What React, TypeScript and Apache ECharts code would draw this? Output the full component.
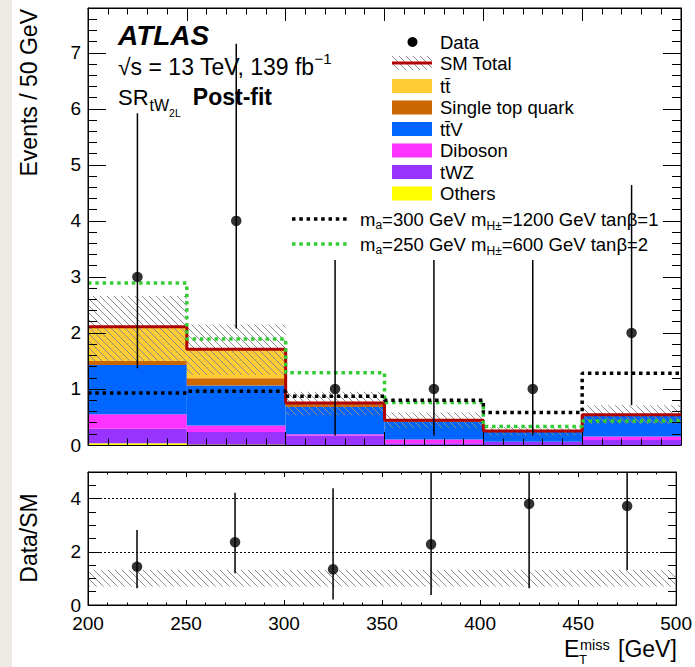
import React, { useEffect, useRef } from "react";
import * as echarts from "echarts";

const FONT = '"Liberation Sans", Arial, Helvetica, sans-serif';

// ---------------- data ----------------
const binEdges = [200, 250, 300, 350, 400, 450, 500];
const dataCounts = [3, 4, 1, 1, 1, 2];
const dataErrDown = [1.37, 2.08, 0.17, 0.17, 0.17, 0.71];
const dataErrUp = [5.92, 7.16, 3.3, 3.3, 3.3, 4.64];

const others = [0.03, 0.01, 0.0, 0.0, 0.0, 0.0];
const tWZ = [0.26, 0.22, 0.17, 0.03, 0.06, 0.09];
const diboson = [0.26, 0.12, 0.02, 0.07, 0.0, 0.06];
const ttV = [0.88, 0.71, 0.49, 0.32, 0.18, 0.38];
const singleTop = [0.07, 0.13, 0.06, 0.01, 0.0, 0.0];
const ttbar = [0.61, 0.52, 0.01, 0.01, 0.01, 0.01];

const smTotal = [2.11, 1.71, 0.75, 0.44, 0.25, 0.54];
const smUncLo = [1.5, 1.25, 0.53, 0.3, 0.17, 0.37];
const smUncHi = [2.66, 2.15, 0.95, 0.58, 0.32, 0.71];

const signal1 = [0.93, 0.96, 0.87, 0.8, 0.58, 1.28]; // ma=300, mH=1200, tanb=1
const signal2 = [2.89, 1.89, 1.29, 0.76, 0.33, 0.43]; // ma=250, mH=600, tanb=2

const ratioVals = [1.44, 2.36, 1.34, 2.28, 3.8, 3.72];
const ratioErrDown = [0.63, 1.19, 0.21, 0.38, 0.63, 1.32];
const ratioErrUp = [2.82, 4.22, 4.39, 7.5, 13.2, 8.6];
const ratioBandLo = [0.69, 0.69, 0.69, 0.69, 0.69, 0.69];
const ratioBandHi = [1.32, 1.32, 1.32, 1.32, 1.32, 1.32];

const xMin = 200, xMax = 500, xStep = 50;
const yMainMax = 7.8, yRatioMax = 5;

const COLORS = {
  ttbar: "#FFCC33",
  singleTop: "#CC6600",
  ttV: "#0066FF",
  diboson: "#FF33FF",
  tWZ: "#9933FF",
  others: "#FFFF00",
  sm: "#B00000",
  sig1: "#000000",
  sig2: "#33CC33",
  hatch: "#8c8c8c",
};

// ---------------- helpers ----------------
let measureCtx: CanvasRenderingContext2D | null = null;
function fontStr(s: number, b?: boolean, i?: boolean) {
  return `${i ? "italic " : ""}${b ? "bold " : ""}${s}px ${FONT}`;
}
function measure(t: string, s: number, b?: boolean, i?: boolean) {
  if (!measureCtx) measureCtx = document.createElement("canvas").getContext("2d");
  measureCtx!.font = fontStr(s, b, i);
  return measureCtx!.measureText(t).width;
}
type Part = { t: string; s: number; dy?: number; b?: boolean; i?: boolean; dx?: number; noAdvance?: boolean };
function textRun(parts: Part[], x0: number, base: number) {
  let x = x0;
  const els: any[] = [];
  for (const p of parts) {
    x += p.dx || 0;
    els.push({
      type: "text",
      x,
      y: base + (p.dy || 0) - 0.35 * p.s,
      z: 100,
      silent: true,
      style: { text: p.t, font: fontStr(p.s, p.b, p.i), fill: "#000", align: "left", verticalAlign: "middle" },
    });
    if (!p.noAdvance) x += measure(p.t, p.s, p.b, p.i);
  }
  return els;
}

function hatchLines(x0: number, y0: number, x1: number, y1: number, spacing: number, color: string) {
  const children: any[] = [];
  const kMin = Math.ceil((y0 - x1) / spacing);
  const kMax = Math.floor((y1 - x0) / spacing);
  for (let k = kMin; k <= kMax; k++) {
    const c = k * spacing;
    const xa = Math.max(x0, y0 - c);
    const xb = Math.min(x1, y1 - c);
    if (xb > xa) {
      children.push({ type: "line", shape: { x1: xa, y1: xa + c, x2: xb, y2: xb + c }, style: { stroke: color, lineWidth: 1 } });
    }
  }
  return children;
}

const rectRender = (color: string) => (_p: any, api: any) => {
  const p0 = api.coord([api.value(0), api.value(2)]);
  const p1 = api.coord([api.value(1), api.value(3)]);
  return {
    type: "rect",
    shape: { x: p0[0], y: p1[1], width: p1[0] - p0[0], height: p0[1] - p1[1] },
    style: { fill: color },
  };
};

const hatchRender = (_p: any, api: any) => {
  const p0 = api.coord([api.value(0), api.value(2)]);
  const p1 = api.coord([api.value(1), api.value(3)]);
  return { type: "group", children: hatchLines(p0[0], p1[1], p1[0], p0[1], 7, COLORS.hatch) };
};

const errRender = (_p: any, api: any) => {
  const a = api.coord([api.value(0), api.value(1)]);
  const b = api.coord([api.value(0), api.value(2)]);
  return { type: "line", shape: { x1: a[0], y1: a[1], x2: b[0], y2: b[1] }, style: { stroke: "#000", lineWidth: 1.5 } };
};

function stepData(vals: number[]) {
  return binEdges.map((e, i) => [e, vals[Math.min(i, vals.length - 1)]]);
}
const centers = binEdges.slice(0, -1).map((e, i) => (e + binEdges[i + 1]) / 2);

function buildOption() {
  const stackDefs = [
    { vals: others, color: COLORS.others },
    { vals: tWZ, color: COLORS.tWZ },
    { vals: diboson, color: COLORS.diboson },
    { vals: ttV, color: COLORS.ttV },
    { vals: singleTop, color: COLORS.singleTop },
    { vals: ttbar, color: COLORS.ttbar },
  ];
  const base = new Array(centers.length).fill(0);
  const stackSeries = stackDefs.map((d) => {
    const data = d.vals.map((v, i) => {
      const item = [binEdges[i], binEdges[i + 1], base[i], base[i] + v];
      base[i] += v;
      return item;
    });
    return {
      type: "custom",
      xAxisIndex: 0,
      yAxisIndex: 0,
      renderItem: rectRender(d.color),
      data,
      encode: { x: [0, 1], y: [2, 3] },
      z: 2,
      silent: true,
    };
  });

  const axisLine = { show: true, onZero: false, lineStyle: { color: "#000", width: 1 } };
  const label = (show: boolean) => ({
    show,
    fontSize: 19,
    color: "#000",
    fontFamily: FONT,
    margin: 7,
    showMaxLabel: false,
  });

  const xAxes = [
    { gridIndex: 0, position: "bottom", major: 13, minor: 6.5, labels: false },
    { gridIndex: 0, position: "top", major: 13, minor: 6.5, labels: false },
    { gridIndex: 1, position: "bottom", major: 5, minor: 2.5, labels: true },
    { gridIndex: 1, position: "top", major: 5, minor: 2.5, labels: false },
  ].map((a) => ({
    type: "value",
    gridIndex: a.gridIndex,
    position: a.position,
    min: xMin,
    max: xMax,
    interval: xStep,
    z: 10,
    axisLine,
    axisTick: { show: true, inside: true, length: a.major, lineStyle: { color: "#000", width: 1 } },
    minorTick: { show: true, splitNumber: 5, length: a.minor, lineStyle: { color: "#000", width: 1 } },
    axisLabel: { ...label(a.labels), margin: 9, showMaxLabel: true },
    splitLine: { show: false },
  }));

  const yAxes = [
    { gridIndex: 0, position: "left", max: yMainMax, interval: 1, len: 18, labels: true, line: true },
    { gridIndex: 0, position: "right", max: yMainMax, interval: 1, len: 18, labels: false, line: true },
    { gridIndex: 0, position: "left", max: yMainMax, interval: 0.2, len: 9, labels: false, line: false },
    { gridIndex: 0, position: "right", max: yMainMax, interval: 0.2, len: 9, labels: false, line: false },
    { gridIndex: 1, position: "left", max: yRatioMax, interval: 2, len: 14, labels: true, line: true, grid: true },
    { gridIndex: 1, position: "right", max: yRatioMax, interval: 2, len: 14, labels: false, line: true },
    { gridIndex: 1, position: "left", max: yRatioMax, interval: 0.5, len: 8, labels: false, line: false },
    { gridIndex: 1, position: "right", max: yRatioMax, interval: 0.5, len: 8, labels: false, line: false },
  ].map((a: any) => ({
    type: "value",
    gridIndex: a.gridIndex,
    position: a.position,
    min: 0,
    max: a.max,
    interval: a.interval,
    z: 10,
    axisLine: { ...axisLine, show: a.line },
    axisTick: { show: true, inside: true, length: a.len, lineStyle: { color: "#000", width: 1 } },
    minorTick: { show: false },
    axisLabel: label(a.labels),
    splitLine: a.grid
      ? { show: true, lineStyle: { color: "#000", width: 1, type: [2, 2] } }
      : { show: false },
  }));

  const series: any[] = [
    ...stackSeries,
    {
      type: "custom",
      xAxisIndex: 0,
      yAxisIndex: 0,
      renderItem: hatchRender,
      data: smUncLo.map((lo, i) => [binEdges[i], binEdges[i + 1], lo, smUncHi[i]]),
      encode: { x: [0, 1], y: [2, 3] },
      z: 3,
      silent: true,
    },
    {
      type: "line",
      xAxisIndex: 0,
      yAxisIndex: 0,
      step: "end",
      data: stepData(smTotal),
      symbol: "none",
      lineStyle: { color: COLORS.sm, width: 3 },
      z: 4,
      silent: true,
    },
    {
      type: "line",
      xAxisIndex: 0,
      yAxisIndex: 0,
      step: "end",
      data: stepData(signal2),
      symbol: "none",
      lineStyle: { color: COLORS.sig2, width: 3.5, type: [3.5, 3.8] },
      z: 5,
      silent: true,
    },
    {
      type: "line",
      xAxisIndex: 0,
      yAxisIndex: 0,
      step: "end",
      data: stepData(signal1),
      symbol: "none",
      lineStyle: { color: COLORS.sig1, width: 3.5, type: [3.5, 3.8] },
      z: 5,
      silent: true,
    },
    {
      type: "custom",
      xAxisIndex: 0,
      yAxisIndex: 0,
      renderItem: errRender,
      data: centers.map((c, i) => [c, dataErrDown[i], dataErrUp[i]]),
      encode: { x: 0, y: [1, 2] },
      z: 6,
      clip: true,
      silent: true,
    },
    {
      type: "scatter",
      xAxisIndex: 0,
      yAxisIndex: 0,
      data: centers.map((c, i) => [c, dataCounts[i]]),
      symbol: "circle",
      symbolSize: 10.5,
      itemStyle: { color: "#000" },
      z: 7,
      silent: true,
    },
    // ratio panel
    {
      type: "custom",
      xAxisIndex: 2,
      yAxisIndex: 4,
      renderItem: hatchRender,
      data: ratioBandLo.map((lo, i) => [binEdges[i], binEdges[i + 1], lo, ratioBandHi[i]]),
      encode: { x: [0, 1], y: [2, 3] },
      z: 3,
      silent: true,
    },
    {
      type: "custom",
      xAxisIndex: 2,
      yAxisIndex: 4,
      renderItem: errRender,
      data: centers.map((c, i) => [c, ratioErrDown[i], ratioErrUp[i]]),
      encode: { x: 0, y: [1, 2] },
      z: 6,
      clip: true,
      silent: true,
    },
    {
      type: "scatter",
      xAxisIndex: 2,
      yAxisIndex: 4,
      data: centers.map((c, i) => [c, ratioVals[i]]),
      symbol: "circle",
      symbolSize: 10.5,
      itemStyle: { color: "#000" },
      z: 7,
      silent: true,
    },
  ];

  // ---------------- graphic: texts and legend ----------------
  const LS = 18.5;
  const legendX = 392, legendW = 40, legendH = 14, legendTextX = 440;
  const boxItems = [
    { label: [{ t: "tt\u0304", s: LS }], color: COLORS.ttbar, y: 86 },
    { label: [{ t: "Single top quark", s: LS }], color: COLORS.singleTop, y: 107.5 },
    { label: [{ t: "tt\u0304V", s: LS }], color: COLORS.ttV, y: 129 },
    { label: [{ t: "Diboson", s: LS }], color: COLORS.diboson, y: 150.5 },
    { label: [{ t: "tWZ", s: LS }], color: COLORS.tWZ, y: 172 },
    { label: [{ t: "Others", s: LS }], color: COLORS.others, y: 193.5 },
  ];
  const midToBase = (y: number, s: number) => y + 0.35 * s;

  const graphic: any[] = [
    { type: "rect", z: -10, silent: true, shape: { x: 0, y: 0, width: 12, height: 667 }, style: { fill: "#EDEAE3" } },
    // Title texts
    ...textRun([{ t: "ATLAS", s: 28, b: true, i: true }], 118, 45),
    ...textRun(
      [
        { t: "\u221As = 13 TeV, 139 fb", s: 23 },
        { t: "\u22121", s: 15, dy: -11, dx: 0 },
      ],
      118,
      75
    ),
    ...textRun(
      [
        { t: "SR", s: 22 },
        { t: "tW", s: 16, dy: 6, dx: 1 },
        { t: "2L", s: 10.5, dy: 12 },
        { t: "Post-fit", s: 23, b: true, dx: 12 },
      ],
      118,
      105
    ),
    // Legend: Data
    { type: "circle", z: 100, silent: true, shape: { cx: 412.5, cy: 42, r: 5 }, style: { fill: "#000" } },
    ...textRun([{ t: "Data", s: LS }], legendTextX, midToBase(42, LS)),
    // Legend: SM Total
    {
      type: "group",
      z: 100,
      silent: true,
      children: hatchLines(legendX, 56, legendX + legendW, 70, 7, COLORS.hatch),
    },
    { type: "line", z: 101, silent: true, shape: { x1: legendX, y1: 63, x2: legendX + legendW, y2: 63 }, style: { stroke: COLORS.sm, lineWidth: 3 } },
    ...textRun([{ t: "SM Total", s: LS }], legendTextX, midToBase(63, LS)),
  ];
  for (const it of boxItems) {
    graphic.push({
      type: "rect",
      z: 100,
      silent: true,
      shape: { x: legendX, y: it.y - legendH / 2, width: legendW, height: legendH },
      style: { fill: it.color },
    });
    graphic.push(...textRun(it.label, legendTextX, midToBase(it.y, LS)));
  }
  // signal legend entries
  const sigLegend = [
    { y: 219, color: COLORS.sig1, mA: "=300 GeV m", rest: "=1200 GeV tan\u03B2=1" },
    { y: 244, color: COLORS.sig2, mA: "=250 GeV m", rest: "=600 GeV tan\u03B2=2" },
  ];
  for (const s of sigLegend) {
    graphic.push({
      type: "line",
      z: 100,
      silent: true,
      shape: { x1: 292, y1: s.y, x2: 347, y2: s.y },
      style: { stroke: s.color, lineWidth: 3.5, lineDash: [3.5, 3.8] },
    });
    graphic.push(
      ...textRun(
        [
          { t: "m", s: LS },
          { t: "a", s: 12, dy: 4 },
          { t: s.mA, s: LS },
          { t: "H\u00B1", s: 12, dy: 5 },
          { t: s.rest, s: LS },
        ],
        360,
        midToBase(s.y, LS)
      )
    );
  }
  // axis titles
  graphic.push({
    type: "text",
    z: 100,
    silent: true,
    x: 29,
    y: 9,
    rotation: Math.PI / 2,
    style: { text: "Events / 50 GeV", font: fontStr(23), fill: "#000", align: "right", verticalAlign: "middle" },
  });
  graphic.push({
    type: "text",
    z: 100,
    silent: true,
    x: 29,
    y: 538,
    rotation: Math.PI / 2,
    style: { text: "Data/SM", font: fontStr(23), fill: "#000", align: "center", verticalAlign: "middle" },
  });
  // x title: E_T^miss [GeV]
  graphic.push(...textRun([{ t: "E", s: 23 }], 564, 657));
  graphic.push(...textRun([{ t: "miss", s: 14.5 }], 580, 650));
  graphic.push(...textRun([{ t: "T", s: 13 }], 579, 664.5));
  graphic.push(...textRun([{ t: "[GeV]", s: 23 }], 618, 657));

  return {
    animation: false,
    backgroundColor: "#ffffff",
    textStyle: { fontFamily: FONT },
    grid: [
      { left: 88, top: 8, width: 593, height: 437, show: true, borderColor: "#000", borderWidth: 1, backgroundColor: "transparent" },
      { left: 88, top: 472, width: 593, height: 133, show: true, borderColor: "#000", borderWidth: 1, backgroundColor: "transparent" },
    ],
    xAxis: xAxes,
    yAxis: yAxes,
    series,
    graphic,
  };
}

export default function App() {
  const ref = useRef<HTMLDivElement>(null);
  useEffect(() => {
    if (!ref.current) return;
    const chart = echarts.init(ref.current, null, { renderer: "svg" });
    chart.setOption(buildOption() as any);
    return () => {
      chart.dispose();
    };
  }, []);
  return (
    <div
      ref={ref}
      style={{ position: "fixed", left: 0, top: 0, width: 695, height: 667, background: "#fff" }}
    />
  );
}
